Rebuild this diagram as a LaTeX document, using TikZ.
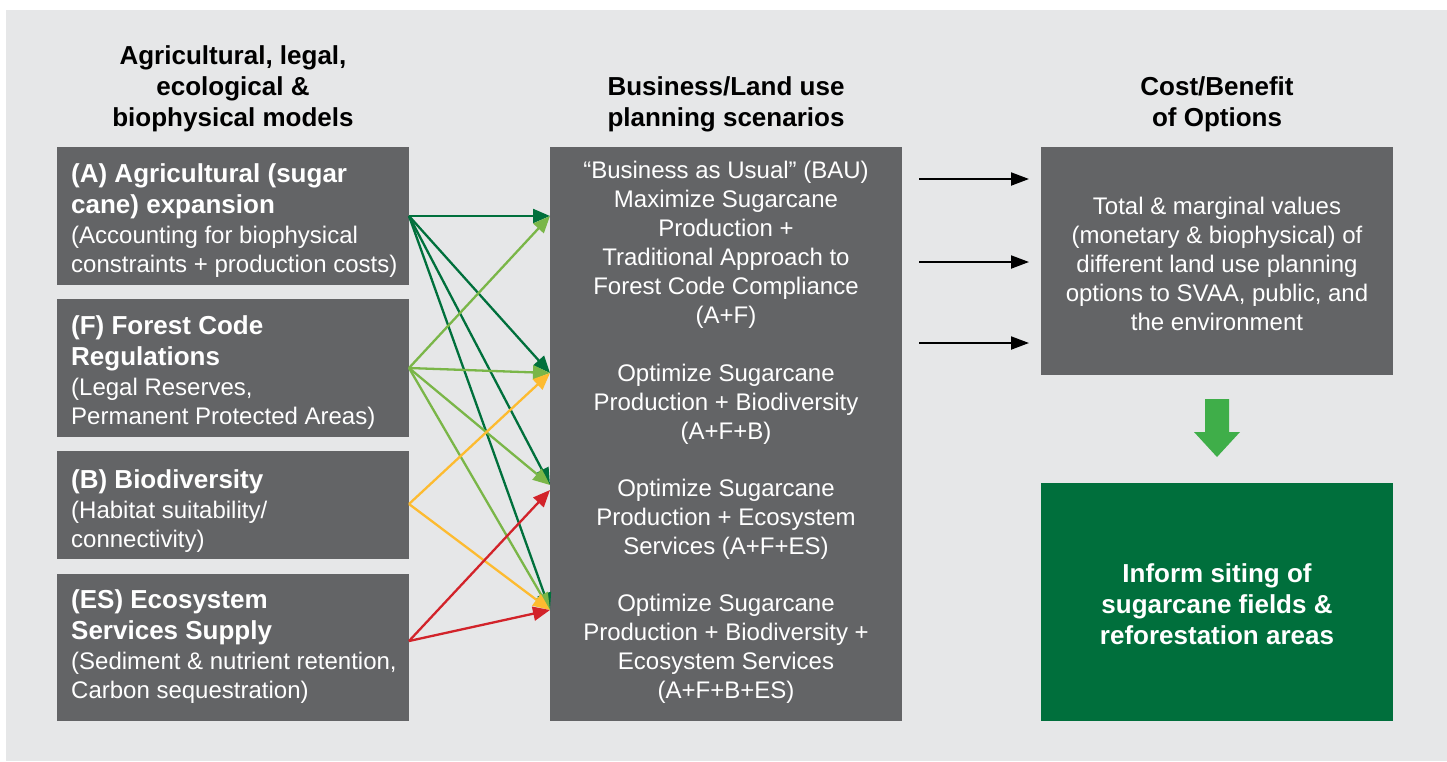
\documentclass[tikz,border=0pt]{standalone}
\usepackage{fontspec}
\setmainfont{Liberation Sans}
\usetikzlibrary{arrows.meta}
\definecolor{bg}{HTML}{E6E7E8}
\definecolor{boxgray}{HTML}{636466}
\definecolor{dgreen}{HTML}{00703C}
\definecolor{lgreen}{HTML}{7AB648}
\definecolor{cyellow}{HTML}{FDBB30}
\definecolor{cred}{HTML}{D2232A}
\definecolor{agreen}{HTML}{3FAE49}
\definecolor{boxgreen}{HTML}{006F3C}
\newcommand{\myhead}{\fontsize{26pt}{31pt}\selectfont\bfseries}
\newcommand{\mybody}{\fontsize{24pt}{29pt}\selectfont}
\begin{document}
\begin{tikzpicture}[x=1pt,y=-1pt,
  box/.style={fill=boxgray, draw=none, inner sep=0pt, anchor=north west, minimum width=352pt},
  lefttext/.style={text=white, align=left, font=\mybody, anchor=west, inner sep=0pt},
  midtext/.style={text=white, font=\mybody, align=center},
  heading/.style={text=black, font=\myhead, align=center},
  link/.style={line width=2.3pt, -{Triangle[length=17pt,width=14pt]}},
  blk/.style={line width=2pt, black, -{Triangle[length=18pt,width=13pt]}}
]
\useasboundingbox (0,0) rectangle (1447,761);
\fill[bg] (6,10) rectangle (1447,761);

% headings
\node[heading] (h1) at (233,89) {Agricultural, legal,\\ecological \&\\biophysical models};
\node[heading] (h2) at (726,104) {Business/Land use\\planning scenarios};
\node[heading] (h3) at (1217,104) {Cost/Benefit\\of Options};

% left boxes
\node[box, minimum height=138pt] (A) at (57,147) {};
\node[box, minimum height=138pt] (F) at (57,299) {};
\node[box, minimum height=108pt] (B) at (57,451) {};
\node[box, minimum height=147pt] (ES) at (57,574) {};
\node[lefttext] (At) at (71,221)
  {\myhead (A) Agricultural (sugar\\[2pt]\myhead cane) expansion\\[1pt]\mybody (Accounting for biophysical\\\mybody constraints + production costs)};
\node[lefttext] (Ft) at (71,373)
  {\myhead (F) Forest Code\\[2pt]\myhead Regulations\\[1pt]\mybody (Legal Reserves,\\\mybody Permanent Protected Areas)};
\node[lefttext] (Bt) at (71,511)
  {\myhead (B) Biodiversity\\[1pt]\mybody (Habitat suitability/\\\mybody connectivity)};
\node[lefttext] (ESt) at (71,647)
  {\myhead (ES) Ecosystem\\[2pt]\myhead Services Supply\\[1pt]\mybody (Sediment \& nutrient retention,\\\mybody Carbon sequestration)};

% middle box
\node[box, minimum height=574pt] (M) at (550,147) {};
\node[midtext] (m1) at (726,245) {“Business as Usual” (BAU)\\Maximize Sugarcane\\Production +\\Traditional Approach to\\Forest Code Compliance\\(A+F)};
\node[midtext] (m2) at (726,404) {Optimize Sugarcane\\Production + Biodiversity\\(A+F+B)};
\node[midtext] (m3) at (726,519) {Optimize Sugarcane\\Production + Ecosystem\\Services (A+F+ES)};
\node[midtext] (m4) at (726,649) {Optimize Sugarcane\\Production + Biodiversity +\\Ecosystem Services\\(A+F+B+ES)};

% right boxes
\node[box, minimum height=228pt] (R) at (1041,147) {};
\node[midtext] (rt) at (1217,264) {Total \& marginal values\\(monetary \& biophysical) of\\different land use planning\\options to SVAA, public, and\\the environment};
\node[box, fill=boxgreen, minimum height=238pt] (G) at (1041,483) {};
\node[text=white, font=\myhead, align=center] (gt) at (1217,604) {Inform siting of\\sugarcane fields \&\\reforestation areas};

% connector end points
\coordinate (sA) at (409,216);
\coordinate (sF) at (409,368);
\coordinate (sB) at (409,504);
\coordinate (sES) at (409,641);
\coordinate (t1) at (550,216);
\coordinate (t2) at (550,373);
\coordinate (t3) at (550,485);
\coordinate (t3r) at (550,490);
\coordinate (t4) at (550,610);

% coloured links
\foreach \t in {t1,t2,t3,t4} \draw[link, dgreen] (sA) -- (\t);
\foreach \t in {t1,t2,t3,t4} \draw[link, lgreen] (sF) -- (\t);
\foreach \t in {t2,t4} \draw[link, cyellow] (sB) -- (\t);
\foreach \t in {t3r,t4} \draw[link, cred] (sES) -- (\t);

% black arrows
\foreach \y [count=\i] in {179,262,343} {
  \coordinate (bs\i) at (919,\y);
  \coordinate (be\i) at (1029,\y);
  \draw[blk] (bs\i) -- (be\i);
}

% green down arrow
\fill[agreen] (1205,399) -- (1229,399) -- (1229,432) -- (1240,432) -- (1217,457) -- (1194,432) -- (1205,432) -- cycle;
\end{tikzpicture}
\end{document}
